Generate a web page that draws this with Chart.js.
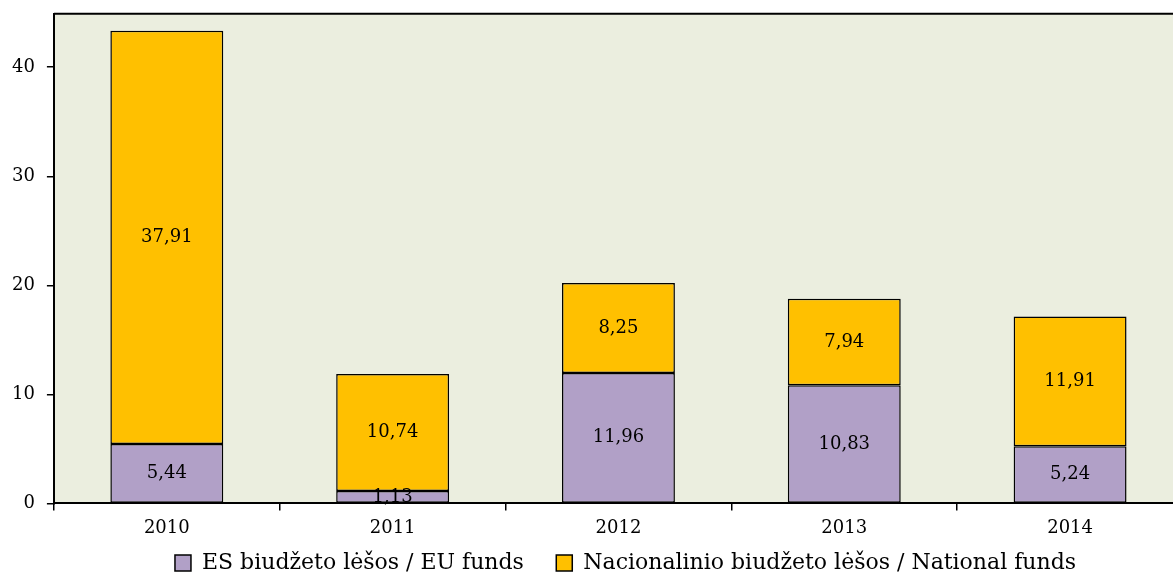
<!DOCTYPE html>
<html>
<head>
<meta charset="utf-8">
<script src="https://cdn.jsdelivr.net/npm/chart.js@4/dist/chart.umd.min.js"></script>
<style>
  html, body { margin: 0; padding: 0; background: #fff; overflow: hidden; }
  #wrap { width: 1185px; height: 593px; margin-top: -9px; position: relative; }
</style>
</head>
<body>
<div id="wrap"><canvas id="myChart"></canvas></div>
<script>
const years = ["2010", "2011", "2012", "2013", "2014"];
const euFunds = [5.44, 1.13, 11.96, 10.83, 5.24];
const nationalFunds = [37.91, 10.74, 8.25, 7.94, 11.91];
const yTicks = [0, 10, 20, 30, 40];

const serif = "'DejaVu Serif', serif";

// plot background + top border line
const plotBg = {
  id: "plotBg",
  beforeDraw(chart) {
    const { ctx, chartArea: a } = chart;
    ctx.save();
    ctx.fillStyle = "#EBEEDF";
    ctx.fillRect(a.left, a.top, a.right - a.left, a.bottom - a.top);
    ctx.strokeStyle = "#000";
    ctx.lineWidth = 2;
    ctx.beginPath();
    ctx.moveTo(a.left, a.top);
    ctx.lineTo(a.right, a.top);
    ctx.stroke();
    ctx.restore();
  },
};

// legend sits a bit right of the canvas centre in the original
const legendShift = {
  id: "legendShift",
  afterLayout(chart) {
    chart.legend.left += 34;
    chart.legend.right += 34;
  },
};

// value labels in the middle of each bar segment
const barLabels = {
  id: "barLabels",
  afterDatasetsDraw(chart) {
    const { ctx } = chart;
    ctx.save();
    ctx.font = "18px " + serif;
    ctx.fillStyle = "#000";
    ctx.textAlign = "center";
    ctx.textBaseline = "middle";
    chart.data.datasets.forEach((ds, i) => {
      chart.getDatasetMeta(i).data.forEach((bar, j) => {
        const y = (bar.y + bar.base) / 2;
        ctx.fillText(ds.data[j].toFixed(2).replace(".", ","), bar.x, y);
      });
    });
    ctx.restore();
  },
};

const ctx = document.getElementById("myChart");

new Chart(ctx, {
  type: "bar",
  data: {
    labels: years,
    datasets: [
      {
        label: "ES biudžeto lėšos / EU funds",
        data: euFunds,
        backgroundColor: "#B1A0C7",
        borderColor: "#000",
        borderWidth: 1.5,
        borderSkipped: false,
        categoryPercentage: 1,
        barPercentage: 0.5,
      },
      {
        label: "Nacionalinio biudžeto lėšos / National funds",
        data: nationalFunds,
        backgroundColor: "#FFC000",
        borderColor: "#000",
        borderWidth: 1.5,
        borderSkipped: false,
        categoryPercentage: 1,
        barPercentage: 0.5,
      },
    ],
  },
  options: {
    responsive: true,
    maintainAspectRatio: false,
    animation: false,
    layout: { padding: { top: 4, left: 0, right: 2, bottom: 0 } },
    plugins: {
      legend: {
        position: "bottom",
        labels: {
          font: { family: serif, size: 22 },
          color: "#000",
          boxWidth: 16,
          boxHeight: 16,
          padding: 6,
          // wider gap between the two entries without extra vertical space
          generateLabels(chart) {
            const items = Chart.defaults.plugins.legend.labels.generateLabels(chart);
            items[0].text += "\u2003\u2009";
            return items;
          },
        },
      },
      tooltip: { enabled: false },
    },
    scales: {
      x: {
        stacked: true,
        grid: { drawOnChartArea: false, color: "#000", tickLength: 7, lineWidth: 1.5 },
        border: { color: "#000", width: 2 },
        ticks: { font: { family: serif, size: 18 }, color: "#000", padding: 7 },
      },
      y: {
        stacked: true,
        min: 0,
        max: 44.9,
        afterBuildTicks(axis) {
          axis.ticks = yTicks.map((v) => ({ value: v }));
        },
        grid: { drawOnChartArea: false, color: "#000", tickLength: 7, lineWidth: 1.5 },
        border: { color: "#000", width: 2 },
        ticks: { font: { family: serif, size: 18 }, color: "#000", padding: 12 },
      },
    },
  },
  plugins: [plotBg, legendShift, barLabels],
});
</script>
</body>
</html>
